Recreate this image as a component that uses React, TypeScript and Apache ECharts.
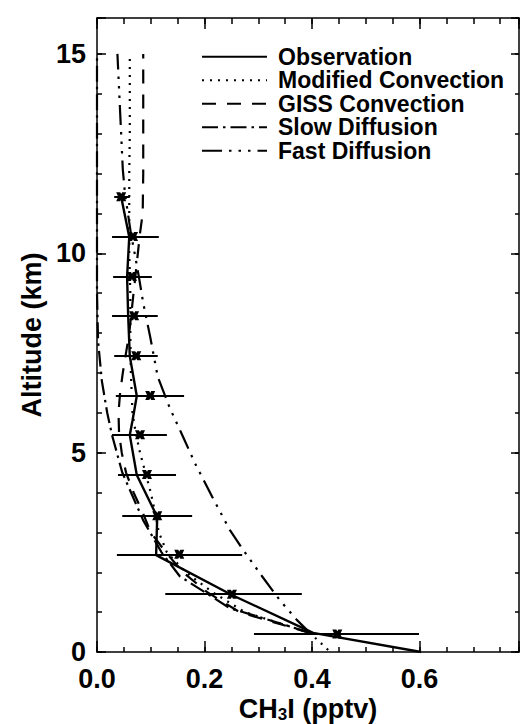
import React, { useEffect, useRef } from "react";
import * as echarts from "echarts";

// ---------- data ----------
const xTickLabels = ["0.0", "0.2", "0.4", "0.6"];
const yTickLabels = ["0", "5", "10", "15"];

// Observation: binned means with horizontal error bars
const obsAlt = [0.45, 1.45, 2.45, 3.42, 4.45, 5.45, 6.43, 7.43, 8.43, 9.42, 10.42, 11.42];
const obsMean = [0.447, 0.251, 0.153, 0.112, 0.093, 0.08, 0.099, 0.073, 0.069, 0.065, 0.067, 0.045];
const obsLow = [0.292, 0.127, 0.037, 0.047, 0.039, 0.028, 0.035, 0.032, 0.028, 0.03, 0.028, 0.032];
const obsHigh = [0.599, 0.381, 0.27, 0.177, 0.147, 0.13, 0.162, 0.113, 0.113, 0.102, 0.115, 0.061];

// Observation profile (solid line)
const obsLineAlt = [0, 0.48, 1.43, 2.43, 3.39, 4.44, 5.44, 5.8, 6.42, 7.42, 8.43, 9.41, 10.41, 11.41];
const obsLineVal = [0.603, 0.402, 0.251, 0.11, 0.112, 0.074, 0.061, 0.066, 0.074, 0.061, 0.058, 0.056, 0.06, 0.045];

// Modified Convection (dotted)
const modAlt = [0.05, 0.48, 1, 1.5, 2, 2.5, 3, 3.5, 4, 4.5, 5, 5.5, 6, 7, 8, 9, 10, 11, 12, 13, 14, 15];
const modVal = [0.43, 0.396, 0.275, 0.215, 0.165, 0.13, 0.115, 0.108, 0.1, 0.09, 0.08, 0.072, 0.066, 0.063, 0.062, 0.062, 0.06, 0.06, 0.06, 0.061, 0.061, 0.061];

// GISS Convection (dashed)
const gissAlt = [0.48, 1, 1.5, 2, 2.5, 3, 3.5, 4, 4.5, 5, 5.5, 6, 6.5, 7, 8, 8.5, 9.5, 10.5, 11, 12, 13, 14, 15];
const gissVal = [0.396, 0.265, 0.205, 0.16, 0.128, 0.1, 0.085, 0.068, 0.054, 0.046, 0.041, 0.04, 0.043, 0.048, 0.06, 0.064, 0.072, 0.08, 0.085, 0.086, 0.086, 0.086, 0.086];

// Slow Diffusion (dash-dot)
const slowAlt = [0.48, 0.72, 1.1, 1.9, 2.5, 3.3, 4.5, 5.44, 6, 6.8, 7.8, 9, 11, 13, 15];
const slowVal = [0.396, 0.34, 0.247, 0.154, 0.12, 0.086, 0.047, 0.028, 0.019, 0.009, 0.002, 0, 0, 0, 0];

// Fast Diffusion (dash-dot-dot-dot)
const fastAlt = [0.48, 0.8, 1.3, 1.9, 2.56, 3.06, 3.9, 4.74, 5.4, 6.1, 6.9, 7.9, 8.75, 9.4, 10, 10.5, 11.5, 12.1, 15];
const fastVal = [0.396, 0.372, 0.34, 0.307, 0.272, 0.247, 0.214, 0.182, 0.16, 0.136, 0.113, 0.099, 0.086, 0.078, 0.07, 0.063, 0.052, 0.048, 0.038];

const seriesNames = ["Observation", "Modified Convection", "GISS Convection", "Slow Diffusion", "Fast Diffusion"];

const X_MAX = 0.785;
const Y_MAX = 15.9;

const FONT = "'Liberation Sans', Arial, Helvetica, sans-serif";

function pairs(vals: number[], alts: number[]) {
  return vals.map((v, i) => [v, alts[i]]);
}

export default function App() {
  const ref = useRef<HTMLDivElement>(null);

  useEffect(() => {
    if (!ref.current) return;
    const chart = echarts.init(ref.current, undefined, { renderer: "svg" });

    const black = "#000";
    const tickStyle = { color: black, width: 1.5 };
    const hidden = { show: false };
    const lineShown = { show: true, onZero: false, lineStyle: tickStyle };
    const lineHidden = { show: false, onZero: false };

    const xLabelFmt = (v: number) => {
      const idx = xTickLabels.findIndex((t) => Math.abs(parseFloat(t) - v) < 1e-6);
      return idx >= 0 ? xTickLabels[idx] : "";
    };
    const yLabelFmt = (v: number) => {
      const idx = yTickLabels.findIndex((t) => Math.abs(parseFloat(t) - v) < 1e-6);
      return idx >= 0 ? yTickLabels[idx] : "";
    };

    const xBase = { type: "value", min: 0, max: X_MAX, splitLine: hidden };
    const yBase = { type: "value", min: 0, max: Y_MAX, splitLine: hidden };

    const lineSeries = (name: string, vals: number[], alts: number[], width: number, dash: any) => ({
      name,
      type: "line",
      data: pairs(vals, alts),
      showSymbol: false,
      symbol: "none",
      xAxisIndex: 0,
      yAxisIndex: 0,
      lineStyle: { color: black, width, type: dash },
      itemStyle: { color: black },
      z: 3,
    });

    const option: any = {
      animation: false,
      backgroundColor: "#fff",
      grid: { left: 97, right: 1, top: 18, bottom: 72, outerBoundsMode: "none" },
      legend: {
        data: seriesNames,
        orient: "vertical",
        left: 196,
        top: 40,
        itemWidth: 65,
        itemHeight: 10,
        itemGap: 0,
        selectedMode: false,
        itemStyle: { opacity: 0 },
        textStyle: {
          fontFamily: FONT,
          fontSize: 23,
          fontWeight: "bold",
          color: black,
          lineHeight: 23.5,
          padding: [0, 0, 0, 6],
        },
      },
      xAxis: [
        {
          ...xBase,
          position: "bottom",
          interval: 0.2,
          axisLine: lineShown,
          axisTick: { inside: true, length: 11, lineStyle: tickStyle },
          axisLabel: {
            formatter: xLabelFmt,
            fontFamily: FONT,
            fontSize: 27,
            fontWeight: "bold",
            color: black,
            margin: 13,
          },
          name: "CH{sub|3}I (pptv)",
          nameLocation: "middle",
          nameGap: 42,
          nameMoveOverlap: false,
          nameTextStyle: {
            fontFamily: FONT,
            fontSize: 27,
            fontWeight: "bold",
            color: black,
            rich: {
              sub: { fontFamily: FONT, fontSize: 17, fontWeight: "bold", color: black, padding: [12, 0, 0, 0] },
            },
          },
        },
        {
          ...xBase,
          position: "bottom",
          interval: 0.05,
          axisLine: lineHidden,
          axisTick: { inside: true, length: 5, lineStyle: tickStyle },
          axisLabel: hidden,
        },
        {
          ...xBase,
          position: "top",
          interval: 0.2,
          axisLine: lineShown,
          axisTick: { inside: true, length: 11, lineStyle: tickStyle },
          axisLabel: hidden,
        },
        {
          ...xBase,
          position: "top",
          interval: 0.05,
          axisLine: lineHidden,
          axisTick: { inside: true, length: 6, lineStyle: tickStyle },
          axisLabel: hidden,
        },
      ],
      yAxis: [
        {
          ...yBase,
          position: "left",
          interval: 5,
          axisLine: lineShown,
          axisTick: { inside: true, length: 9, lineStyle: tickStyle },
          axisLabel: {
            formatter: yLabelFmt,
            fontFamily: FONT,
            fontSize: 27,
            fontWeight: "bold",
            color: black,
            margin: 11,
          },
          name: "Altitude (km)",
          nameLocation: "middle",
          nameGap: 52,
          nameMoveOverlap: false,
          nameTextStyle: { fontFamily: FONT, fontSize: 27, fontWeight: "bold", color: black },
        },
        {
          ...yBase,
          position: "left",
          interval: 1,
          axisLine: lineHidden,
          axisTick: { inside: true, length: 5, lineStyle: tickStyle },
          axisLabel: hidden,
        },
        {
          ...yBase,
          position: "right",
          interval: 5,
          axisLine: lineShown,
          axisTick: { inside: true, length: 8, lineStyle: tickStyle },
          axisLabel: hidden,
        },
        {
          ...yBase,
          position: "right",
          interval: 1,
          axisLine: lineHidden,
          axisTick: { inside: true, length: 4, lineStyle: tickStyle },
          axisLabel: hidden,
        },
      ],
      series: [
        lineSeries("Observation", obsLineVal, obsLineAlt, 2.4, "solid"),
        lineSeries("Modified Convection", modVal, modAlt, 2.2, [2, 6]),
        lineSeries("GISS Convection", gissVal, gissAlt, 2.2, [14, 11]),
        lineSeries("Slow Diffusion", slowVal, slowAlt, 2.2, [16, 5, 2.5, 5]),
        lineSeries("Fast Diffusion", fastVal, fastAlt, 2.2, [20, 7, 2.5, 7, 2.5, 7, 2.5, 7]),
        {
          name: "obs-error",
          type: "lines",
          coordinateSystem: "cartesian2d",
          xAxisIndex: 0,
          yAxisIndex: 0,
          silent: true,
          lineStyle: { color: black, width: 2, opacity: 1, curveness: 0 },
          data: obsAlt.map((a, i) => ({ coords: [[obsLow[i], a], [obsHigh[i], a]] })),
          z: 4,
        },
        {
          name: "obs-mean",
          type: "scatter",
          xAxisIndex: 0,
          yAxisIndex: 0,
          symbol: "path://M0,0L4,0L5,2L6,0L10,0L8,5L10,10L6,10L5,8L4,10L0,10L2,5Z",
          symbolSize: [10, 9],
          itemStyle: { color: black, opacity: 1 },
          data: pairs(obsMean, obsAlt),
          z: 5,
        },
      ],
    };

    chart.setOption(option);
    return () => chart.dispose();
  }, []);

  return (
    <div
      ref={ref}
      style={{ position: "absolute", left: 0, top: 0, width: 520, height: 724, background: "#fff" }}
    />
  );
}
